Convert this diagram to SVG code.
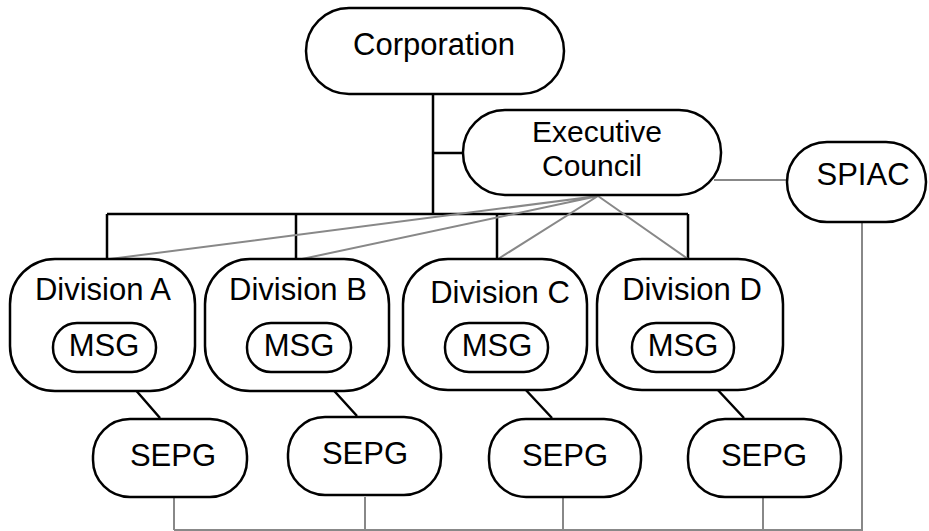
<svg xmlns="http://www.w3.org/2000/svg" width="929" height="531" viewBox="0 0 929 531">
<style>
.n{fill:#fff;stroke:#000;stroke-width:2.5}
.t{font-family:"Liberation Sans",Arial,sans-serif;font-size:31px;text-anchor:middle;fill:#000}
.e{font-size:30px}
.k{stroke:#000;stroke-width:2.5;fill:none}
.g{stroke:#888;stroke-width:2;fill:none}
</style>
<rect width="929" height="531" fill="#fff"/>
<g id="connectors">
<path class="k" d="M433 94V214M433 153H463M107 214H688M107 214V259M296 214V259M497 214V259M688 214V259"/>
<path class="g" d="M598 196L110 259M598 196L302 259M598 196L498 259M598 196L688 259M714 180H787M862 222V530H174M174 497V530M365 497V530M563 497V530M763 497V530"/>
<path class="k" d="M120 372L160 418M317 372L357 416M510 373L552 418M702 373L744 418"/>
</g>
<g id="corporation"><rect class="n" x="306" y="8" width="258" height="86" rx="43"/><text class="t" x="434" y="55">Corporation</text></g>
<g id="executive-council"><rect class="n" x="463" y="110" width="258" height="85" rx="42"/><text class="t e" x="597" y="142">Executive</text><text class="t e" x="592" y="176">Council</text></g>
<g id="spiac"><rect class="n" x="787" y="142" width="139" height="80" rx="40"/><text class="t" x="863" y="185">SPIAC</text></g>
<g id="division-a"><rect class="n" x="10" y="259" width="185" height="132" rx="45"/><text class="t" x="103" y="300">Division A</text><g id="msg-a"><rect class="n" x="53" y="323" width="103" height="49" rx="24"/><text class="t" x="104" y="356">MSG</text></g></g>
<g id="division-b"><rect class="n" x="205" y="259" width="184" height="132" rx="45"/><text class="t" x="298" y="300">Division B</text><g id="msg-b"><rect class="n" x="247" y="323" width="104" height="49" rx="24"/><text class="t" x="299" y="356">MSG</text></g></g>
<g id="division-c"><rect class="n" x="403" y="259" width="184" height="131" rx="45"/><text class="t" x="500" y="303">Division C</text><g id="msg-c"><rect class="n" x="445" y="323" width="103" height="49" rx="24"/><text class="t" x="497" y="356">MSG</text></g></g>
<g id="division-d"><rect class="n" x="597" y="259" width="186" height="131" rx="45"/><text class="t" x="692" y="300">Division D</text><g id="msg-d"><rect class="n" x="632" y="323" width="102" height="49" rx="24"/><text class="t" x="683" y="356">MSG</text></g></g>
<g id="sepg-a"><rect class="n" x="93" y="419" width="154" height="78" rx="37"/><text class="t" x="173" y="466">SEPG</text></g>
<g id="sepg-b"><rect class="n" x="288" y="417" width="153" height="78" rx="37"/><text class="t" x="365" y="464">SEPG</text></g>
<g id="sepg-c"><rect class="n" x="489" y="419" width="152" height="78" rx="37"/><text class="t" x="565" y="466">SEPG</text></g>
<g id="sepg-d"><rect class="n" x="688" y="419" width="153" height="78" rx="37"/><text class="t" x="764" y="466">SEPG</text></g>
</svg>
